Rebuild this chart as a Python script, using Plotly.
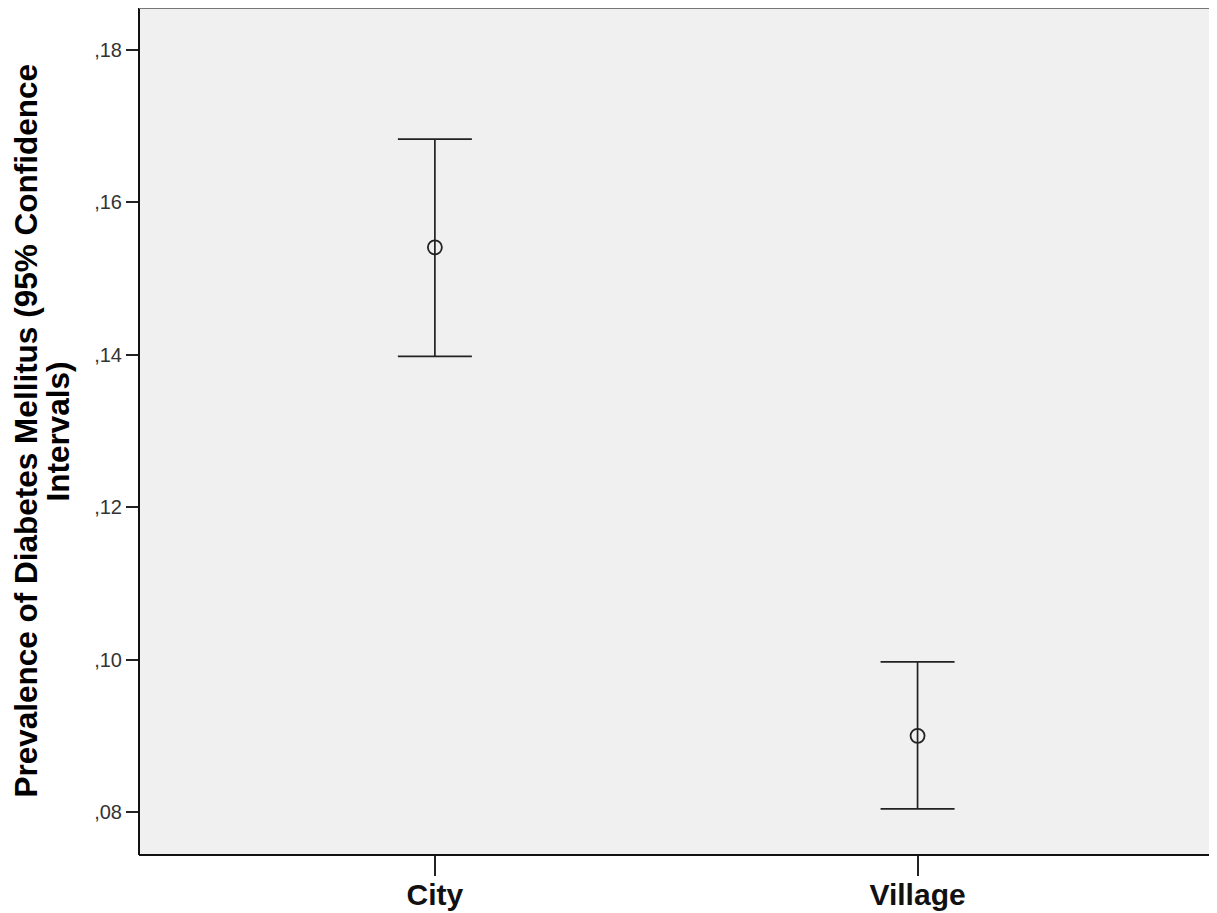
import plotly.graph_objects as go

categories = ["City", "Village"]
means = [0.1541, 0.0900]
upper = [0.1683, 0.0997]
lower = [0.1398, 0.0804]
ytick_vals = [0.08, 0.10, 0.12, 0.14, 0.16, 0.18]
ytick_text = [",08", ",10", ",12", ",14", ",16", ",18"]

err_plus = [u - m for u, m in zip(upper, means)]
err_minus = [m - l for m, l in zip(means, lower)]

fig = go.Figure()
fig.add_trace(go.Scatter(
    x=categories, y=means, mode="markers",
    marker=dict(symbol="circle-open", size=14, color="#222222", line=dict(width=1.8, color="#222222")),
    error_y=dict(type="data", symmetric=False, array=err_plus, arrayminus=err_minus,
                 color="#222222", thickness=1.7, width=37),
    showlegend=False, hoverinfo="skip",
))

# the page body has an 8px margin, so the figure is 8px smaller and shifted
fig.update_layout(
    width=1209, height=905,
    margin=dict(l=131, r=5, t=0, b=58, autoexpand=False),
    paper_bgcolor="white", plot_bgcolor="#f0f0f0",
    font=dict(family="Arial, Liberation Sans, sans-serif", color="#000"),
    xaxis=dict(type="category", range=[-0.613, 1.610], showgrid=False, zeroline=False,
               ticks="outside", ticklen=20, tickwidth=2, tickcolor="#222",
               ticklabelstandoff=-7,
               tickfont=dict(size=30, family="Arial, Liberation Sans, sans-serif", color="#111", weight="bold"),
               showline=False, automargin=False),
    yaxis=dict(range=[0.07436, 0.18551], tickvals=ytick_vals, ticktext=ytick_text,
               showgrid=False, zeroline=False, ticks="outside", ticklen=12, tickwidth=2,
               tickcolor="#222", tickfont=dict(size=20, color="#333"),
               showline=False, automargin=False),
    shapes=[
        dict(type="line", xref="paper", yref="paper", x0=0, x1=0, y0=0, y1=1, line=dict(color="#111", width=2)),
        dict(type="line", xref="paper", yref="paper", x0=0, x1=1, y0=0, y1=0, line=dict(color="#111", width=2)),
        dict(type="line", xref="paper", yref="paper", x0=1, x1=1, y0=0, y1=1, line=dict(color="#333", width=2)),
        dict(type="line", xref="paper", yref="paper", x0=0, x1=1, y0=1, y1=1, line=dict(color="#777", width=2)),
    ],
    annotations=[
        dict(text="<b>Prevalence of Diabetes Mellitus (95% Confidence</b>", textangle=-90,
             xref="paper", yref="paper", x=-0.1062, y=0.5, xanchor="center", yanchor="middle",
             showarrow=False, font=dict(size=31.5, color="#000")),
        dict(text="<b>Intervals)</b>", textangle=-90,
             xref="paper", yref="paper", x=-0.0755, y=0.5, xanchor="center", yanchor="middle",
             showarrow=False, font=dict(size=31.5, color="#000")),
    ],
)

fig.write_html("out.html")
